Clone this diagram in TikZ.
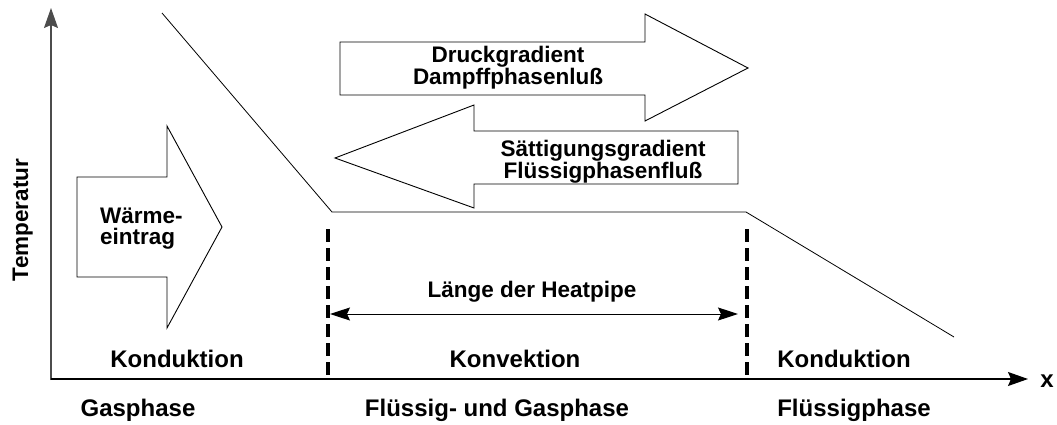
\documentclass[tikz,border=0pt]{standalone}
\usepackage{fontspec}
\setmainfont{Liberation Sans}
\usetikzlibrary{arrows.meta}

\begin{document}
\begin{tikzpicture}[x=1pt, y=-1pt,
	lbl/.style={font=\bfseries\fontsize{24}{24}\selectfont, anchor=base, inner sep=0},
	txt/.style={font=\bfseries\fontsize{22.5}{#1}\selectfont, inner sep=0},
	blockarrow/.style={draw, line width=0.9pt, fill=white},
	phaseline/.style={line width=3.2pt, dash pattern=on 13pt off 6pt},
	axtip/.style={-{Stealth[length=20pt, width=14pt, inset=3pt]}}]
	\useasboundingbox (0,0) rectangle (1057,425);
	\coordinate (o) at (51,379);
	\coordinate (ytop) at (51,8);
	\coordinate (xend) at (1028,379);
	\draw[axtip, line width=1.2pt, color=black!70] (51,380) -- (ytop);
	\draw[axtip, line width=1.2pt] (o) -- (xend);
	\node[lbl] (xlab) at (1047,387) {x};
	\node[txt=22, rotate=90, anchor=base] (temp) at (28,220) {Temperatur};
	\draw[line width=0.8pt] (162,13) -- (332,212) -- (746,212) -- (954,337);
	\draw[blockarrow] (340,42) -- (645,42) -- (645,14) -- (748,68) -- (645,121) -- (645,95) -- (340,95) -- cycle;
	\node[txt=22, align=center] (druck) at (508,68) {Druckgradient\\Dampffphasenluß};
	\draw[blockarrow] (738,131) -- (474,131) -- (474,105) -- (335,158) -- (474,208) -- (474,184) -- (738,184) -- cycle;
	\node[txt=20, align=center] (saett) at (603,162) {Sättigungsgradient\\Flüssigphasenfluß};
	\draw[blockarrow] (77,177) -- (167,177) -- (167,126) -- (222,227) -- (167,328) -- (167,277) -- (77,277) -- cycle;
	\node[txt=21, align=left, anchor=west] (waerme) at (100,229) {Wärme-\\eintrag};
	\draw[phaseline] (328,229) -- (328,379);
	\draw[phaseline] (747,229) -- (747,379);
	\coordinate (hpl) at (330,314);
	\coordinate (hpr) at (738,314);
	\draw[line width=1pt, {Stealth[length=20pt, width=13pt, inset=3pt]}-{Stealth[length=20pt, width=13pt, inset=3pt]}] (hpl) -- (hpr);
	\node[txt=22, anchor=base] (laenge) at (532,297) {Länge der Heatpipe};
	\node[lbl] (kond1) at (177,367) {Konduktion};
	\node[lbl] (konv) at (515,367) {Konvektion};
	\node[lbl] (kond2) at (844,367) {Konduktion};
	\node[lbl] (gas) at (138,416) {Gasphase};
	\node[lbl] (fluegas) at (497,416) {Flüssig- und Gasphase};
	\node[lbl] (fluess) at (854,416) {Flüssigphase};
\end{tikzpicture}
\end{document}
